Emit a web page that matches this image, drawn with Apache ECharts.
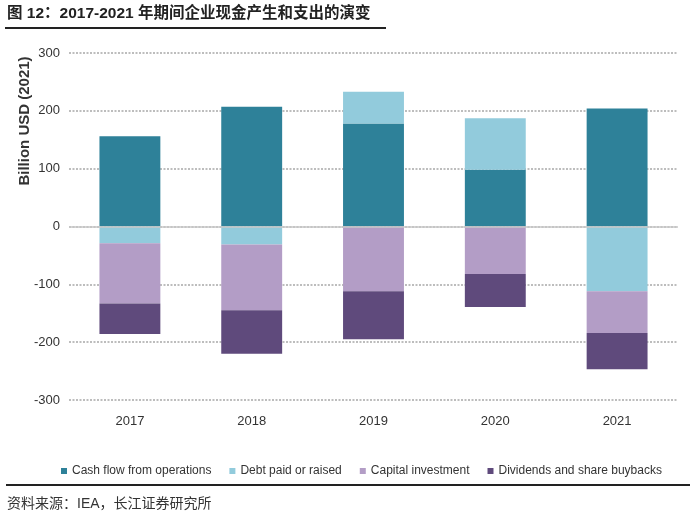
<!DOCTYPE html>
<html>
<head>
<meta charset="utf-8">
<script src="https://cdn.jsdelivr.net/npm/echarts@6/dist/echarts.min.js"></script>
<style>
html,body{margin:0;padding:0;background:#fff;}
#c{width:690px;height:521px;}
</style>
</head>
<body>
<div id="c"></div>
<script>
var categories = ['2017', '2018', '2019', '2020', '2021'];
var cashFlow = [156, 207, 178, 98, 204];
var debt = [-29, -31, 55, 89, -112];
var capex = [-104, -114, -112, -82, -72];
var dividends = [-53, -75, -83, -57, -63];
var seriesNames = ['Cash flow from operations', 'Debt paid or raised', 'Capital investment', 'Dividends and share buybacks'];
var colors = ['#2E8199', '#92CBDC', '#B39DC6', '#5F4A7C'];
var yTicks = [-300, -200, -100, 0, 100, 200, 300];

var latin = '"Liberation Sans", Arial, sans-serif';
var cjk = '"Liberation Sans", "Noto Sans CJK SC", sans-serif';

var chart = echarts.init(document.getElementById('c'));
var dataSets = [cashFlow, debt, capex, dividends];
var series = dataSets.map(function (d, i) {
  return {
    name: seriesNames[i],
    type: 'bar',
    stack: 'total',
    barWidth: '50%',
    z: 3,
    data: d,
    itemStyle: { color: colors[i] },
    emphasis: { disabled: true }
  };
});
series.push({
  name: 'zero',
  type: 'line',
  data: [],
  z: 1,
  silent: true,
  markLine: {
    silent: true,
    symbol: 'none',
    label: { show: false },
    lineStyle: { color: '#c8c8c8', type: 'solid', width: 1.5 },
    data: [{ yAxis: 0 }]
  }
});

chart.setOption({
  animation: false,
  color: colors,
  grid: { left: 69, right: 12, top: 53, bottom: 121 },
  legend: {
    top: 460,
    left: 56,
    width: 634,
    icon: 'rect',
    itemWidth: 6,
    itemHeight: 6,
    itemGap: 18,
    textStyle: { fontFamily: latin, fontSize: 12, color: '#333' },
    data: seriesNames
  },
  xAxis: {
    type: 'category',
    data: categories,
    axisLine: { show: false },
    axisTick: { show: false },
    axisLabel: { fontFamily: latin, fontSize: 13, color: '#333', margin: 15 }
  },
  yAxis: {
    type: 'value',
    min: yTicks[0],
    max: yTicks[yTicks.length - 1],
    interval: 100,
    axisLine: { show: false },
    axisTick: { show: false },
    axisLabel: { fontFamily: latin, fontSize: 13, color: '#333', margin: 9 },
    splitLine: { lineStyle: { color: '#a8a8a8', type: [2, 1.5], width: 1.5 } }
  },
  graphic: [
    {
      type: 'text', left: 7, top: 6,
      style: { text: '图 12：2017-2021 年期间企业现金产生和支出的演变', font: 'bold 15.5px ' + cjk, fill: '#222' }
    },
    { type: 'rect', shape: { x: 5, y: 27, width: 381, height: 2 }, style: { fill: '#222' } },
    { type: 'rect', shape: { x: 6, y: 484, width: 684, height: 2 }, style: { fill: '#222' } },
    {
      type: 'text', left: 7, top: 497,
      style: { text: '资料来源：IEA，长江证券研究所', font: '14px ' + cjk, fill: '#333' }
    },
    {
      type: 'text', x: 25, y: 121, rotation: Math.PI / 2,
      style: { text: 'Billion USD (2021)', font: 'bold 15px ' + latin, fill: '#333', align: 'center', verticalAlign: 'middle' }
    }
  ],
  series: series
});
</script>
</body>
</html>
